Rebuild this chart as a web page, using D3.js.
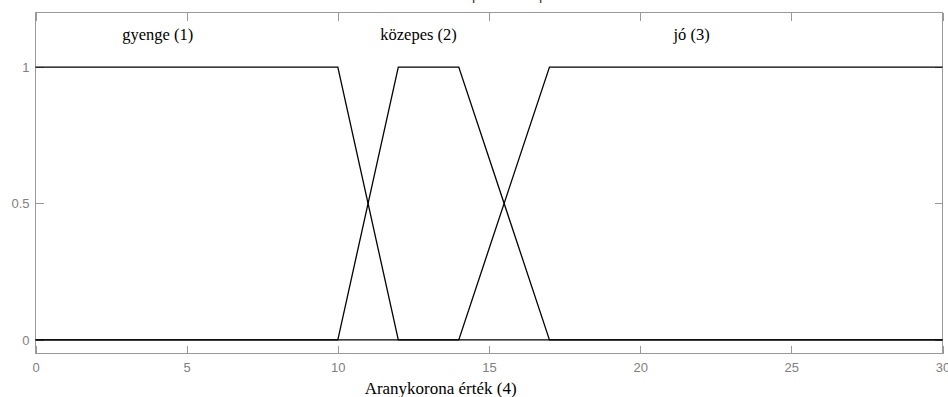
<!DOCTYPE html>
<html>
<head>
<meta charset="utf-8">
<script src="https://cdn.jsdelivr.net/npm/d3@7"></script>
<style>
html, body { margin: 0; padding: 0; background: #fff; overflow: hidden; }
svg { display: block; }
</style>
</head>
<body>
<svg id="chart" width="948" height="397"></svg>
<script>
// ---- data ----
const mfNames = ["gyenge (1)", "közepes (2)", "jó (3)"];
const mfParams = [[0, 0, 10, 12], [10, 12, 14, 17], [14, 17, 30, 30]]; // trapezoid a,b,c,d
const labelX = [4.04, 12.67, 21.7];
const labelY = 1.1;
const xTicks = [0, 5, 10, 15, 20, 25, 30];
const yTicks = [0, 0.5, 1];
const yTickLabels = ["0", "0.5", "1"];
const xDomain = [0, 30];
const yDomain = [-0.05, 1.2];
const xLabel = "Aranykorona érték (4)";
const xLabelPos = 13.4;
const titleText = "Membership function plots";

// ---- layout ----
const svg = d3.select("#chart");
const L = 35.5, R = 942.5, T = 12.5, B = 353.5;
const x = d3.scaleLinear().domain(xDomain).range([L, R]);
const y = d3.scaleLinear().domain(yDomain).range([B, T]);
const axisColor = "#999";
const tickLen = 8;

// partial title (clipped at top of the window, only descenders visible)
const title = svg.append("text")
  .attr("font-family", "Liberation Sans, Arial, sans-serif")
  .attr("font-size", 14.5)
  .attr("fill", "#333")
  .attr("y", -0.5)
  .attr("x", 0)
  .text(titleText);
(function () {
  const node = title.node();
  const s = titleText;
  const i1 = s.indexOf("p"), i2 = s.lastIndexOf("p");
  const p1 = node.getStartPositionOfChar(i1).x;
  const p2 = node.getStartPositionOfChar(i2).x;
  const target1 = 472, target2 = 539;
  const scale = (target2 - target1) / (p2 - p1);
  title.attr("font-size", 14.5 * scale);
  const q1 = node.getStartPositionOfChar(i1).x;
  title.attr("x", target1 - q1);
})();

// box
svg.append("rect")
  .attr("x", L).attr("y", T)
  .attr("width", R - L).attr("height", B - T)
  .attr("fill", "none").attr("stroke", axisColor).attr("stroke-width", 1);

// axes via d3 axis generators (inward ticks)
const axisStyle = g => {
  g.select(".domain").remove();
  g.selectAll(".tick line").attr("stroke", axisColor).attr("shape-rendering", "crispEdges");
  g.selectAll(".tick text")
    .attr("fill", "#808080")
    .attr("font-family", "Liberation Sans, Arial, sans-serif")
    .attr("font-size", 13);
};

svg.append("g").attr("transform", `translate(0,${B})`)
  .call(d3.axisBottom(x).tickValues(xTicks).tickFormat(d3.format("d")).tickSizeInner(-tickLen).tickSizeOuter(0).tickPadding(9))
  .call(axisStyle);
svg.append("g").attr("transform", `translate(0,${T})`)
  .call(d3.axisTop(x).tickValues(xTicks).tickFormat("").tickSizeInner(-tickLen).tickSizeOuter(0))
  .call(axisStyle);
svg.append("g").attr("transform", `translate(${L},0)`)
  .call(d3.axisLeft(y).tickValues(yTicks).tickFormat((d, i) => yTickLabels[i]).tickSizeInner(-tickLen).tickSizeOuter(0).tickPadding(6))
  .call(axisStyle);
svg.append("g").attr("transform", `translate(${R},0)`)
  .call(d3.axisRight(y).tickValues(yTicks).tickFormat("").tickSizeInner(-tickLen).tickSizeOuter(0))
  .call(axisStyle);

// membership functions, drawn across the full domain
const line = d3.line().x(d => x(d[0])).y(d => y(d[1]));
mfParams.forEach(p => {
  const pts = [];
  if (p[0] > xDomain[0]) pts.push([xDomain[0], 0]);
  pts.push([p[0], p[0] === p[1] ? 1 : 0]);
  pts.push([p[1], 1]);
  pts.push([p[2], 1]);
  pts.push([p[3], p[2] === p[3] ? 1 : 0]);
  if (p[3] < xDomain[1]) pts.push([xDomain[1], 0]);
  svg.append("path")
    .attr("d", line(pts))
    .attr("fill", "none")
    .attr("stroke", "#000")
    .attr("stroke-width", 1.3);
});

// MF labels
svg.selectAll(".mflabel").data(mfNames).join("text")
  .attr("class", "mflabel")
  .attr("x", (d, i) => x(labelX[i]))
  .attr("y", y(labelY))
  .attr("text-anchor", "middle")
  .attr("font-family", "Liberation Serif, Times New Roman, serif")
  .attr("font-size", 16.5)
  .attr("fill", "#000")
  .text(d => d);

// x label
svg.append("text")
  .attr("x", x(xLabelPos))
  .attr("y", 394)
  .attr("text-anchor", "middle")
  .attr("font-family", "Liberation Serif, Times New Roman, serif")
  .attr("font-size", 17)
  .attr("fill", "#000")
  .text(xLabel);
</script>
</body>
</html>
